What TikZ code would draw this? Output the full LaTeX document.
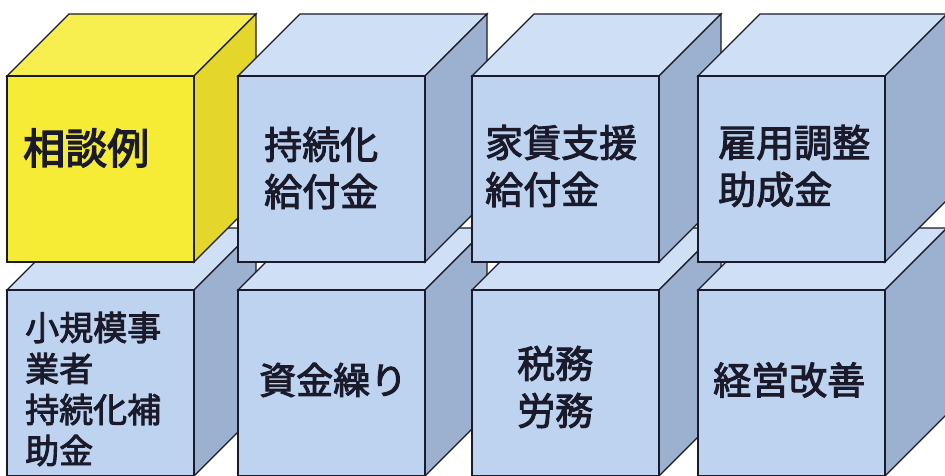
\documentclass[tikz,border=0pt]{standalone}
\usepackage{fontspec}
\newfontfamily\jp[FakeBold=3.2]{Noto Sans CJK JP}
\newfontfamily\jpm[FakeBold=2.6]{Noto Sans CJK JP}
\definecolor{yfront}{HTML}{F6EC36}
\definecolor{ytop}{HTML}{F7EE50}
\definecolor{yside}{HTML}{E4D62A}
\definecolor{bfront}{HTML}{BDD3EF}
\definecolor{btop}{HTML}{CFE0F6}
\definecolor{bside}{HTML}{9CB0CF}
\definecolor{edge}{HTML}{1A1A2A}
\tikzset{
  face/.style={draw=edge, line width=1.3pt, line join=miter},
  lbl/.style={text=edge, align=left, anchor=west, inner sep=0pt},
}
% cube: #1 x, #2 y (front top-left), #3 front, #4 top, #5 side
\newcommand\mycube[5]{%
  \filldraw[face, fill=#4] (#1,#2) -- ++(62,-62) -- ++(187,0) -- ++(-62,62) -- cycle;
  \filldraw[face, fill=#5] (#1+187,#2) -- ++(62,-62) -- ++(0,186) -- ++(-62,62) -- cycle;
  \filldraw[face, fill=#3] (#1,#2) rectangle ++(187,186);
}
\begin{document}
\begin{tikzpicture}[x=1pt,y=-1pt]
\useasboundingbox (0,0) rectangle (945,475);
\clip (0,0) rectangle (945,475);
\fill[white] (0,0) rectangle (945,475);
% bottom row
\mycube{7}{290}{bfront}{btop}{bside}
\mycube{238}{290}{bfront}{btop}{bside}
\mycube{472}{290}{bfront}{btop}{bside}
\mycube{698}{290}{bfront}{btop}{bside}
% top row
\mycube{7}{76}{yfront}{ytop}{yside}
\mycube{238}{76}{bfront}{btop}{bside}
\mycube{472}{76}{bfront}{btop}{bside}
\mycube{698}{76}{bfront}{btop}{bside}
% labels
\node[lbl, font=\jp\fontsize{42}{50}\selectfont] (t1) at (23,148) {相談例};
\node[lbl, font=\jpm\fontsize{38}{47}\selectfont] (t2) at (264,168) {持続化\\給付金};
\node[lbl, font=\jpm\fontsize{38}{47}\selectfont] (t3) at (485,166) {家賃支援\\給付金};
\node[lbl, font=\jpm\fontsize{38}{47}\selectfont] (t4) at (718,166) {雇用調整\\助成金};
\node[lbl, font=\jpm\fontsize{34}{41}\selectfont] (t5) at (25,389) {小規模事\\業者\\持続化補\\助金};
\node[lbl, font=\jpm\fontsize{37}{47}\selectfont] (t6) at (259,380) {資金繰り};
\node[lbl, font=\jpm\fontsize{38}{47}\selectfont] (t7) at (517,387) {税務\\労務};
\node[lbl, font=\jpm\fontsize{38}{47}\selectfont] (t8) at (713,380) {経営改善};
\end{tikzpicture}
\end{document}
